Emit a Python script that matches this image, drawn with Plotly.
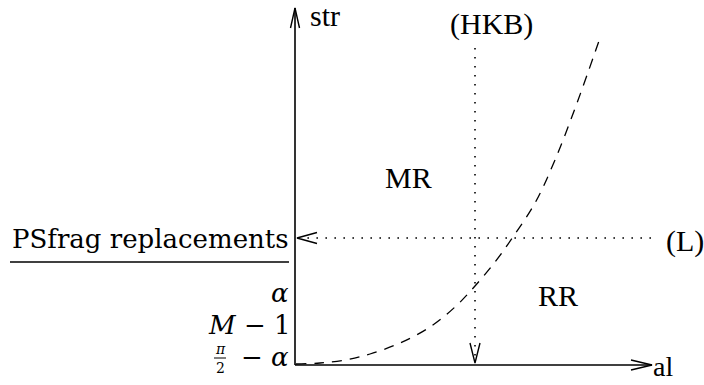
import plotly.graph_objects as go

# ---- data (diagram coordinates, in a 704 x 385 frame, y grows downward) ----
curve_x = [296, 320, 345, 370, 400, 430, 455, 475, 495, 513, 535, 555, 577, 600]
curve_y = [364, 363, 360, 354, 343, 327, 307, 286, 262, 237, 203, 160, 103, 38]

origin = (295, 365)
x_axis_end = 652
y_axis_end = 8
hkb_x = 475
hkb_top = 48
l_y = 238
l_right = 651

region_labels = ["MR", "RR"]
axis_labels = ["str", "al"]
line_labels = ["(HKB)", "(L)"]

W, H = 704, 385
SERIF = "Liberation Serif, Times New Roman, serif"
CM = "DejaVu Serif, serif"

fig = go.Figure()

def seg(xs, ys, width=1.5, dash="solid", color="black", shape="linear"):
    fig.add_trace(go.Scatter(x=xs, y=ys, mode="lines",
                             line=dict(color=color, width=width, dash=dash, shape=shape),
                             hoverinfo="skip", showlegend=False))

def open_arrow(tx, ty, dx, dy, length=20, half=5, width=1.4):
    # open "V" arrowhead with tip (tx,ty), pointing toward direction (dx,dy)
    px, py = -dy, dx
    bx, by = tx - dx * length, ty - dy * length
    seg([bx + px * half, tx, bx - px * half], [by + py * half, ty, by - py * half], width=width)

ox, oy = origin
# axes
seg([ox, x_axis_end], [oy, oy], width=1.6)
seg([ox, ox], [oy, y_axis_end], width=1.6)
open_arrow(x_axis_end, oy, 1, 0, length=21, half=5)
open_arrow(ox, y_axis_end, 0, -1, length=20, half=4.5)

# dotted lines
seg([hkb_x, hkb_x], [hkb_top, oy - 2], width=1.6, dash="1.6px,7.4px")
open_arrow(hkb_x, oy - 2, 0, 1, length=20, half=5)
seg([l_right, ox + 2], [l_y, l_y], width=1.6, dash="1.6px,7.4px")
open_arrow(ox + 2, l_y, -1, 0, length=20, half=5.5)

# dashed curve
seg(curve_x, curve_y, width=1.3, dash="10px,8px", shape="spline")

# PSfrag underline
seg([10, 289], [262, 262], width=1.3)

ann = []
def txt(x, y, s, size=30, xanchor="center", font=SERIF, yanchor="middle", pad=1):
    ann.append(dict(x=x, y=y, xref="x", yref="y", text=s, showarrow=False,
                    xanchor=xanchor, yanchor=yanchor, borderpad=pad,
                    font=dict(family=font, size=size, color="black")))

txt(308, 15, axis_labels[0], xanchor="left")
txt(652, 366, axis_labels[1], size=28, xanchor="left", pad=0)
txt(491, 24, line_labels[0])
txt(664, 241, line_labels[1], xanchor="left")
txt(408, 177, region_labels[0])
txt(558, 295, region_labels[1])

txt(291, 239, "PSfrag replacements", size=26, xanchor="right", font=CM)
txt(291, 293, "<i>α</i>", size=26, xanchor="right", font=CM)
txt(291, 325, "<i>M</i> − 1", size=26, xanchor="right", font=CM, pad=0)
txt(291, 357, "− <i>α</i>", size=26, xanchor="right", font=CM)
txt(220, 349, "<i>π</i>", size=14, font=CM, pad=0)
txt(220, 368, "2", size=14, font=CM, pad=0)
seg([214, 226], [358, 358], width=1.0)

fig.update_layout(
    width=W, height=H, margin=dict(l=0, r=0, t=0, b=0),
    paper_bgcolor="white", plot_bgcolor="white",
    xaxis=dict(range=[0, W], visible=False, fixedrange=True),
    yaxis=dict(range=[H, 0], visible=False, fixedrange=True),
    annotations=ann, showlegend=False,
)
fig.write_html("out.html", config={"displayModeBar": False},
               post_script="document.body.style.margin='0';")
